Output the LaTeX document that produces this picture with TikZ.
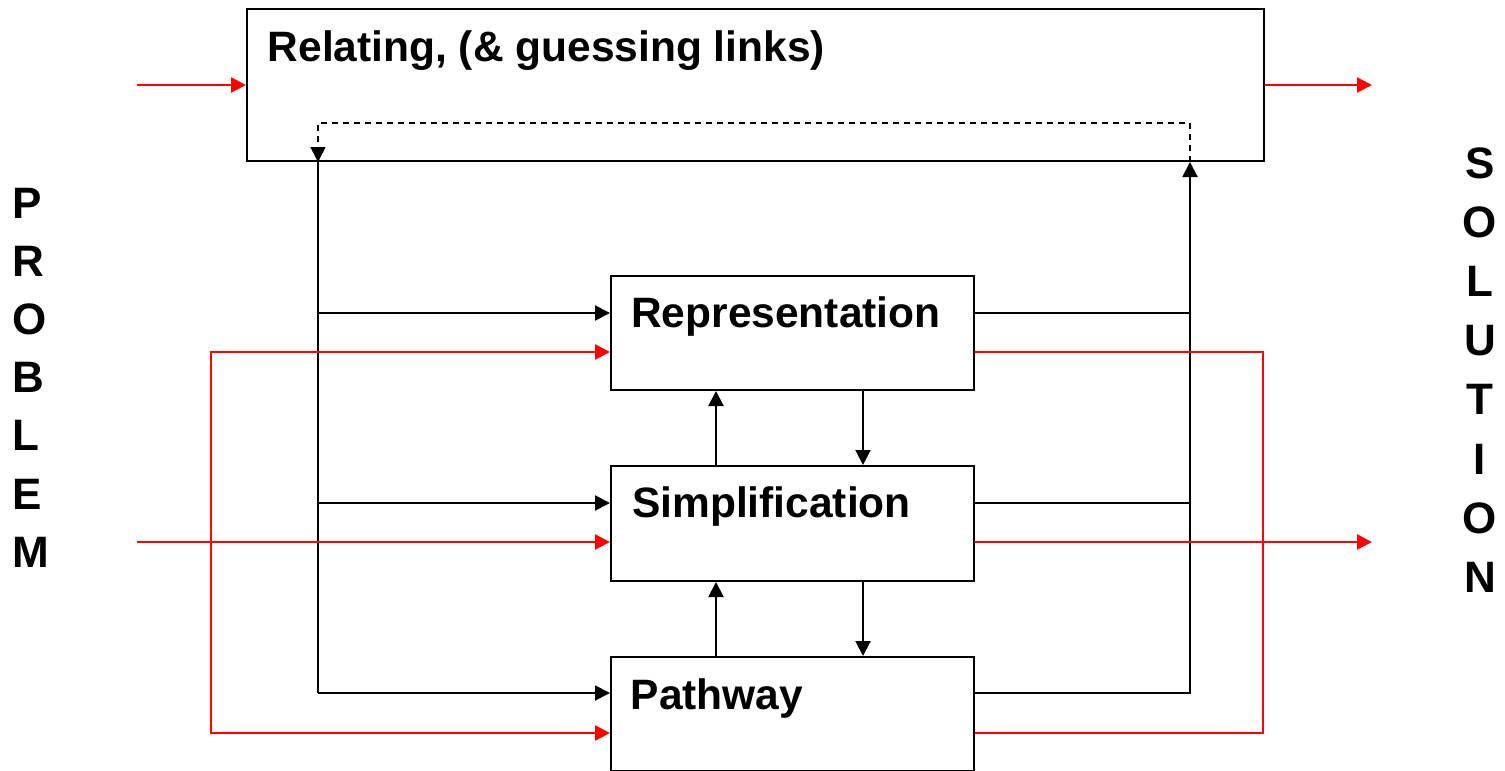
\documentclass[tikz,border=0pt]{standalone}
\usepackage{fontspec}
\setmainfont{Liberation Sans}
\usetikzlibrary{arrows.meta}
\begin{document}
\begin{tikzpicture}[x=1pt,y=-1pt,
  box/.style={draw, line width=2pt, anchor=north west, inner sep=0pt, minimum width=363pt, minimum height=114pt},
  lbl/.style={font=\fontsize{42.5}{50}\selectfont\bfseries, inner sep=0pt, anchor=base west},
  side/.style={font=\fontsize{44}{50}\selectfont\bfseries, inner sep=0pt},
  blk/.style={line width=2pt},
  blkarr/.style={blk, -{Triangle[length=15pt,width=15pt]}},
  dsh/.style={line width=1.6pt, dash pattern=on 6pt off 5pt, -{Triangle[length=15pt,width=15pt]}},
  redl/.style={draw=red, line width=2.5pt},
  redarr/.style={redl, -{Triangle[length=15pt,width=15pt]}}
]
\useasboundingbox (0,0) rectangle (1505,771);

% boxes
\node[box, minimum width=1017pt, minimum height=152pt] (top) at (246,8) {};
\node[box] (rep) at (610,275) {};
\node[box, minimum height=115pt] (simp) at (610,465) {};
\node[box] (path) at (610,656) {};

% labels
\node[lbl] (ttop) at (267.5,61) {Relating, (\& guessing links)};
\node[lbl] (trep) at (631,327) {Representation};
\node[lbl] (tsimp) at (632,517) {Simplification};
\node[lbl] (tpath) at (630.5,709) {Pathway};

% side words
\foreach \c [count=\i from 0] in {P,R,O,B,L,E,M}
  \node[side, anchor=base west] (prob\i) at (12,218+58.2*\i) {\c};
\foreach \c [count=\i from 0] in {S,O,L,U,T,I,O,N}
  \node[side, anchor=base] (sol\i) at (1480,178+59.2*\i) {\c};

% coordinates
\coordinate (lx) at (318,0);
\coordinate (rx) at (1190,0);
\coordinate (ux) at (716,0);
\coordinate (dx) at (863,0);
\coordinate (dash) at (0,123);
\coordinate (r1) at (0,313);
\coordinate (r2) at (0,503);
\coordinate (r3) at (0,693);
\coordinate (rr1) at (0,352);
\coordinate (rr2) at (0,542);
\coordinate (rr3) at (0,733);
\coordinate (redL) at (211,0);
\coordinate (redR) at (1263,0);
\coordinate (inA) at (137,85);
\coordinate (outA) at (1372,85);
\coordinate (inB) at (137,542);
\coordinate (outB) at (1372,542);

% dashed feedback
\draw[dsh] (top.south -| rx) -- (dash -| rx) -- (dash -| lx) -- (top.south -| lx);

% left black bus
\draw[blk] (top.south -| lx) -- (r3 -| lx);
\draw[blkarr] (r1 -| lx) -- (r1 -| rep.west);
\draw[blkarr] (r2 -| lx) -- (r2 -| simp.west);
\draw[blkarr] (r3 -| lx) -- (r3 -| path.west);

% right black bus
\draw[blk] (r1 -| rep.east) -- (r1 -| rx);
\draw[blk] (r2 -| simp.east) -- (r2 -| rx);
\draw[blkarr] (r3 -| path.east) -- (r3 -| rx) -- (top.south -| rx);

% vertical arrows between boxes
\draw[blkarr] (simp.north -| ux) -- (rep.south -| ux);
\draw[blkarr] (rep.south -| dx) -- (simp.north -| dx);
\draw[blkarr] (path.north -| ux) -- (simp.south -| ux);
\draw[blkarr] (simp.south -| dx) -- (path.north -| dx);

% red lines
\draw[redarr] (inA) -- (inA -| top.west);
\draw[redarr] (outA -| top.east) -- (outA);
\draw[redarr] (inB) -- (inB -| simp.west);
\draw[redarr] (rr2 -| simp.east) -- (outB);
\draw[redl, {Triangle[length=15pt,width=15pt]}-{Triangle[length=15pt,width=15pt]}]
  (rr1 -| rep.west) -- (rr1 -| redL) -- (rr3 -| redL) -- (rr3 -| path.west);
\draw[redl] (rr1 -| rep.east) -- (rr1 -| redR) -- (rr3 -| redR) -- (rr3 -| path.east);
\end{tikzpicture}
\end{document}
